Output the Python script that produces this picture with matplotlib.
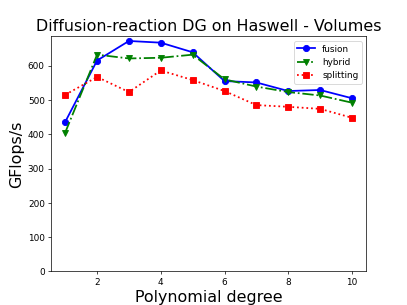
import matplotlib
matplotlib.use("Agg")
import matplotlib.pyplot as plt

degrees = [1, 2, 3, 4, 5, 6, 7, 8, 9, 10]
fusion = [436, 615, 672, 667, 639, 555, 551, 526, 529, 505]
hybrid = [405, 632, 621, 623, 632, 560, 539, 523, 513, 492]
splitting = [515, 567, 523, 586, 558, 526, 485, 480, 474, 448]

fig = plt.figure(figsize=(6.4, 4.8), dpi=407 / 6.4)
ax = fig.add_subplot(111)
ax.plot(degrees, fusion, 'bo-', label='fusion', lw=2, ms=7)
ax.plot(degrees, hybrid, 'gv-.', label='hybrid', lw=2, ms=7)
ax.plot(degrees, splitting, 'rs:', label='splitting', lw=2, ms=7)
ax.set_ylim(bottom=0)
ax.set_title('Diffusion-reaction DG on Haswell - Volumes', fontsize=18)
ax.set_xlabel('Polynomial degree', fontsize=18)
ax.set_ylabel('GFlops/s', fontsize=18)
ax.legend(loc='upper right')
fig.savefig('out.png', dpi=407 / 6.4)
